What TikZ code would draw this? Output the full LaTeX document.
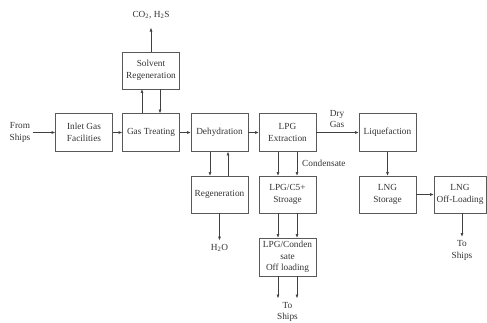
\documentclass[tikz,border=0pt]{standalone}
\usepackage{fontspec}
\setmainfont{Liberation Serif}
\usetikzlibrary{arrows.meta,calc}
\begin{document}
\begin{tikzpicture}[x=1pt,y=-1pt,
  font=\fontsize{9.3}{11.5}\selectfont,
  box/.style={draw=black!65,line width=0.9pt,minimum width=57pt,minimum height=38pt,align=center,inner sep=1pt,text=black!80},
  lbl/.style={align=center,inner sep=0pt,text=black!80},
  arr/.style={draw=black!75,line width=0.6pt,-{Triangle[length=3.5pt,width=2.6pt]}}]
\useasboundingbox (0,0) rectangle (487,322);
\node[box] (inlet) at (84,132.5) {Inlet Gas\\Facilities};
\node[box] (gastreat) at (151,132.5) {Gas Treating};
\node[box] (dehyd) at (219.5,132.5) {Dehydration};
\node[box] (lpgext) at (287.5,132.5) {LPG\\Extraction};
\node[box] (liquef) at (387.5,132.5) {Liquefaction};
\node[box,minimum height=37pt] (solvent) at (151,70.5) {Solvent\\Regeneration};
\node[box,minimum height=37pt] (regen) at (219.5,194.5) {Regeneration};
\node[box,minimum height=37pt] (storage) at (287.5,194.5) {LPG/C5+\\Stroage};
\node[box] (offload) at (287.5,257) {LPG/Conden\\sate\\Off loading};
\node[box,minimum height=37pt] (lngstor) at (387.5,194.5) {LNG\\Storage};
\node[box,minimum height=37pt,minimum width=52pt] (lngoff) at (460,194.5) {LNG\\Off-Loading};

\node[lbl] (from) at (20,132.5) {From\\Ships};
\node[lbl] (co2) at (151,15) {CO\textsubscript{2}, H\textsubscript{2}S};
\node[lbl] (drygas) at (337,119) {Dry\\Gas};
\node[lbl,anchor=west] (cond) at (302,163) {Condensate};
\node[lbl] (h2o) at (219.5,248) {H\textsubscript{2}O};
\node[lbl] (ships1) at (287.5,312) {To\\Ships};
\node[lbl] (ships2) at (462,250.5) {To\\Ships};
\coordinate (co2end) at (151,28);

\draw[arr] (from.east) ++(2,0) -- (inlet.west);
\draw[arr] (inlet) -- (gastreat);
\draw[arr] (gastreat) -- (dehyd);
\draw[arr] (dehyd) -- (lpgext);
\draw[arr] (lpgext) -- (liquef);
\draw[arr] (solvent.north) -- (co2end);
\draw[arr] ($(gastreat.north)+(-9,0)$) -- ($(solvent.south)+(-9,0)$);
\draw[arr] ($(solvent.south)+(9,0)$) -- ($(gastreat.north)+(9,0)$);
\draw[arr] ($(dehyd.south)+(-9.5,0)$) -- ($(regen.north)+(-9.5,0)$);
\draw[arr] ($(regen.north)+(8.5,0)$) -- ($(dehyd.south)+(8.5,0)$);
\draw[arr] (regen.south) -- ($(h2o.north)+(0,-4)$);
\draw[arr] ($(lpgext.south)+(-9.5,0)$) -- ($(storage.north)+(-9.5,0)$);
\draw[arr] ($(lpgext.south)+(9.5,0)$) -- ($(storage.north)+(9.5,0)$);
\draw[arr] ($(storage.south)+(-9.5,0)$) -- ($(offload.north)+(-9.5,0)$);
\draw[arr] ($(storage.south)+(9.5,0)$) -- ($(offload.north)+(9.5,0)$);
\draw[arr] ($(offload.south)+(-9.5,0)$) -- ($(ships1.north)+(-9.5,-4)$);
\draw[arr] ($(offload.south)+(9.5,0)$) -- ($(ships1.north)+(9.5,-4)$);
\draw[arr] (liquef) -- (lngstor);
\draw[arr] (lngstor) -- (lngoff);
\draw[arr] ($(lngoff.south)+(2,0)$) -- ($(ships2.north)+(0,-4)$);
\end{tikzpicture}
\end{document}
